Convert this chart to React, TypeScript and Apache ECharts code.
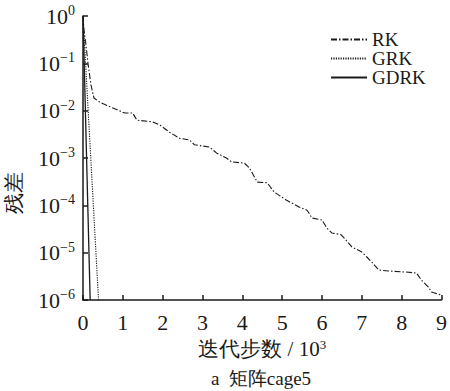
import React, { useEffect, useRef } from "react";
import * as echarts from "echarts";

const rkX = [0, 0.025, 0.075, 0.125, 0.2, 0.275, 0.425, 0.75, 1.05, 1.25, 1.35, 1.75, 1.925, 2.175, 2.425, 2.675, 2.8, 3.175, 3.35, 3.6, 3.725, 4.05, 4.175, 4.375, 4.625, 4.8, 5.1, 5.425, 5.625, 5.75, 6.0, 6.125, 6.25, 6.475, 6.6, 6.75, 7.0, 7.125, 7.25, 7.425, 7.675, 8.1, 8.375, 8.5, 8.675, 8.75, 8.975, 9.0];
const rkY = [1, 0.5, 0.245, 0.1, 0.035, 0.0185, 0.015, 0.0114, 0.0089, 0.0089, 0.0063, 0.0058, 0.005, 0.0035, 0.0026, 0.0024, 0.0019, 0.0017, 0.00128, 0.001, 0.00083, 0.00078, 0.00062, 0.00031, 0.0003, 0.00019, 0.00013, 9.2e-5, 7.9e-5, 5.4e-5, 4.9e-5, 3.3e-5, 2.6e-5, 2.4e-5, 1.86e-5, 1.32e-5, 1.03e-5, 8.1e-6, 6.3e-6, 4.3e-6, 4.1e-6, 3.9e-6, 3.7e-6, 2.6e-6, 1.87e-6, 1.48e-6, 1.28e-6, 1.2e-6];
const grkX = [0, 0.39];
const grkY = [1, 1e-6];
const gdrkX = [0, 0.18];
const gdrkY = [1, 1e-6];
const seriesNames = ["RK", "GRK", "GDRK"];
const xTicks = [0, 1, 2, 3, 4, 5, 6, 7, 8, 9];

const FONT = "Liberation Serif";
const INK = "#1a1a1a";

function pairs(xs: number[], ys: number[]) {
  return xs.map((x, i) => [x, ys[i]]);
}

export default function App() {
  const ref = useRef<HTMLDivElement>(null);
  useEffect(() => {
    if (!ref.current) return;
    const chart = echarts.init(ref.current, null, { renderer: "svg" });
    const lineBase = { type: "line", showSymbol: false, symbol: "none", smooth: false };
    chart.setOption({
      animation: false,
      backgroundColor: "#fff",
      textStyle: { fontFamily: FONT, color: INK },
      grid: { left: 83, right: 7, top: 16, bottom: 91 },
      legend: {
        orient: "vertical",
        left: 325,
        top: 25,
        itemWidth: 36,
        itemHeight: 12,
        itemGap: 0,
        data: seriesNames,
        itemStyle: { opacity: 0 },
        textStyle: { fontFamily: FONT, fontSize: 19, lineHeight: 19, color: INK },
      },
      xAxis: {
        type: "value",
        min: 0,
        max: 9,
        interval: 1,
        splitLine: { show: false },
        axisLine: { show: true, onZero: false, lineStyle: { color: INK, width: 1.5 } },
        axisTick: { show: true, inside: true, length: 5, lineStyle: { color: INK, width: 1.5 } },
        axisLabel: {
          fontFamily: FONT,
          fontSize: 22,
          color: INK,
          margin: 11,
          formatter: (v: number) => (xTicks.includes(v) ? String(v) : ""),
        },
        name: "迭代步数 / 10{sup|3}",
        nameLocation: "middle",
        nameGap: 36,
        nameTextStyle: {
          fontFamily: FONT,
          fontSize: 21,
          color: INK,
          rich: {
            sup: { fontFamily: FONT, fontSize: 13, color: INK, padding: [0, 0, 10, 0] },
          },
        },
      },
      yAxis: {
        type: "log",
        logBase: 10,
        min: 1e-6,
        max: 1,
        splitLine: { show: false },
        minorTick: { show: false },
        axisLine: { show: true, onZero: false, lineStyle: { color: INK, width: 1.5 } },
        axisTick: { show: true, inside: true, length: 5, lineStyle: { color: INK, width: 1.5 } },
        axisLabel: {
          fontFamily: FONT,
          fontSize: 22,
          color: INK,
          margin: 8,
          formatter: (v: number) => {
            const e = Math.round(Math.log10(v));
            return "10{sup|" + (e < 0 ? "\u2212" + -e : String(e)) + "}";
          },
          rich: {
            sup: { fontFamily: FONT, fontSize: 14, color: INK, padding: [0, 0, 11, 0] },
          },
        },
      },
      graphic: [
        {
          type: "text",
          x: 14,
          y: 193,
          rotation: Math.PI / 2,
          style: {
            text: "残差",
            fontFamily: FONT,
            fontSize: 21,
            fill: INK,
            textAlign: "center",
            textVerticalAlign: "middle",
          },
        },
        {
          type: "text",
          x: 261,
          y: 378,
          style: {
            text: "a  矩阵cage5",
            fontFamily: FONT,
            fontSize: 19,
            fill: INK,
            textAlign: "center",
            textVerticalAlign: "middle",
          },
        },
      ],
      series: [
        {
          ...lineBase,
          name: "RK",
          data: pairs(rkX, rkY),
          lineStyle: { color: INK, width: 1.1, type: [6, 2, 1.5, 2] },
          itemStyle: { color: INK },
        },
        {
          ...lineBase,
          name: "GRK",
          data: pairs(grkX, grkY),
          lineStyle: { color: INK, width: 1.1, type: [1.2, 1.2] },
          itemStyle: { color: INK },
        },
        {
          ...lineBase,
          name: "GDRK",
          data: pairs(gdrkX, gdrkY),
          lineStyle: { color: INK, width: 1.3, type: "solid" },
          itemStyle: { color: INK },
        },
      ],
    });
    return () => chart.dispose();
  }, []);
  return <div ref={ref} style={{ width: 450, height: 391, position: "absolute", left: 0, top: 0 }} />;
}
